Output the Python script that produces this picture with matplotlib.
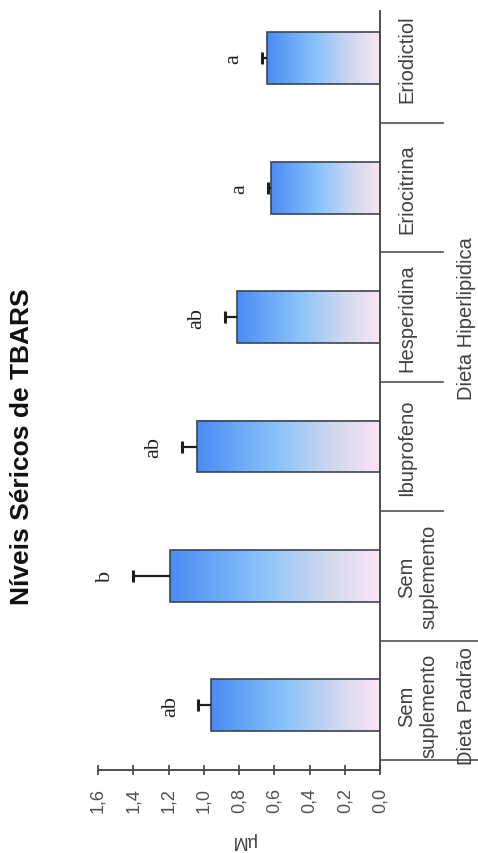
import matplotlib
matplotlib.use('Agg')
import matplotlib.pyplot as plt
import matplotlib.transforms as mtransforms
from matplotlib.colors import LinearSegmentedColormap
from matplotlib.lines import Line2D
import numpy as np

# TBARS serum levels per group (uM)
grupos = ['Sem\nsuplemento', 'Sem\nsuplemento', 'Ibuprofeno', 'Hesperidina', 'Eriocitrina', 'Eriodictiol']
valores = [0.96, 1.19, 1.04, 0.81, 0.62, 0.64]
erros = [0.07, 0.21, 0.085, 0.07, 0.015, 0.03]
letras = ['ab', 'b', 'ab', 'ab', 'a', 'a']
dietas = ['Dieta Padrão', 'Dieta Hiperlipidica']
ticks = [0.0, 0.2, 0.4, 0.6, 0.8, 1.0, 1.2, 1.4, 1.6]

W, H = 478, 854
fig = plt.figure(figsize=(W / 100, H / 100), dpi=100)
fig.patch.set_facecolor('white')

# whole chart is laid out turned a quarter turn: value axis runs along the bottom
ax = fig.add_axes([98 / W, (H - 771) / H, (380 - 98) / W, (771 - 12) / H])
ax.set_facecolor('white')

cmap = LinearSegmentedColormap.from_list('grad', [(0.0, '#4a8cf3'), (0.45, '#8cc4fa'),
                                                  (0.75, '#d2d8ee'), (1.0, '#f9e6f4')])
grad = np.linspace(0, 1, 256).reshape(1, -1)
pos = np.arange(len(valores))
alt = 0.40
for y, v in zip(pos, valores):
    ax.imshow(grad, cmap=cmap, aspect='auto', extent=(v, 0, y - alt / 2, y + alt / 2),
              interpolation='bilinear', zorder=2)
ax.barh(pos, valores, height=alt, fill=False, edgecolor='#3c4450', linewidth=1.2, zorder=3)

# only the upper half of the error bar, with a cap at its end
_, caps, _ = ax.errorbar(valores, pos, xerr=[[0] * len(erros), erros], fmt='none', ecolor='#1e1e1e',
                         elinewidth=1.6, capsize=4.3, capthick=2.2, zorder=4)
caps[0].set_visible(False)

for y, v, e, l in zip(pos, valores, erros, letras):
    ax.annotate(l, (v + e, y), xytext=(-28, 0), textcoords='offset pixels', rotation=90,
                ha='center', va='center', fontsize=16, family='Liberation Serif', color='#202020')

ax.set_xlim(1.6, 0)
ax.set_ylim(-0.5, 5.366)
ax.set_xticks(ticks)
ax.set_xticklabels([('%.1f' % t).replace('.', ',') for t in ticks])
ax.set_yticks([])
ax.tick_params(axis='x', direction='inout', length=7, width=1.2, color='#404040',
               labelrotation=90, labelsize=13, labelcolor='#505050', pad=9)
for lab in ax.get_xticklabels():
    lab.set_family('Liberation Sans')
for s in ['left', 'top']:
    ax.spines[s].set_visible(False)
for s in ['bottom', 'right']:
    ax.spines[s].set_color('#404040')
    ax.spines[s].set_linewidth(1.3)

# category area to the right of the zero line
tr = mtransforms.blended_transform_factory(fig.transFigure, ax.transData)
for yy, x2 in [(-0.42, 1.0), (0.5, 1.0), (1.5, 443 / W), (2.5, 443 / W), (3.5, 443 / W), (4.5, 443 / W)]:
    fig.add_artist(Line2D([380 / W, x2], [yy, yy], transform=tr, color='#505050', lw=1.2))
for y, g in zip(pos, grupos):
    fig.text(397 / W, y, g, transform=tr, rotation=90, ha='left', va='center',
             multialignment='center', linespacing=1.25, fontsize=14.5,
             family='Liberation Sans', color='#404040')
fig.text(457 / W, 0, dietas[0], transform=tr, rotation=90, ha='left', va='center',
         fontsize=14.5, family='Liberation Sans', color='#404040')
fig.text(457 / W, 3, dietas[1], transform=tr, rotation=90, ha='left', va='center',
         fontsize=14.5, family='Liberation Sans', color='#404040')

fig.text(22 / W, (H - 447) / H, 'Níveis Séricos de TBARS', rotation=90, ha='center', va='center',
         fontsize=19, fontweight='bold', family='Liberation Sans', color='#111111')
fig.text(243 / W, (H - 841) / H, 'µM', rotation=180, ha='center', va='center',
         fontsize=13, family='Liberation Sans', color='#404040')

fig.savefig('out.png', dpi=100)
